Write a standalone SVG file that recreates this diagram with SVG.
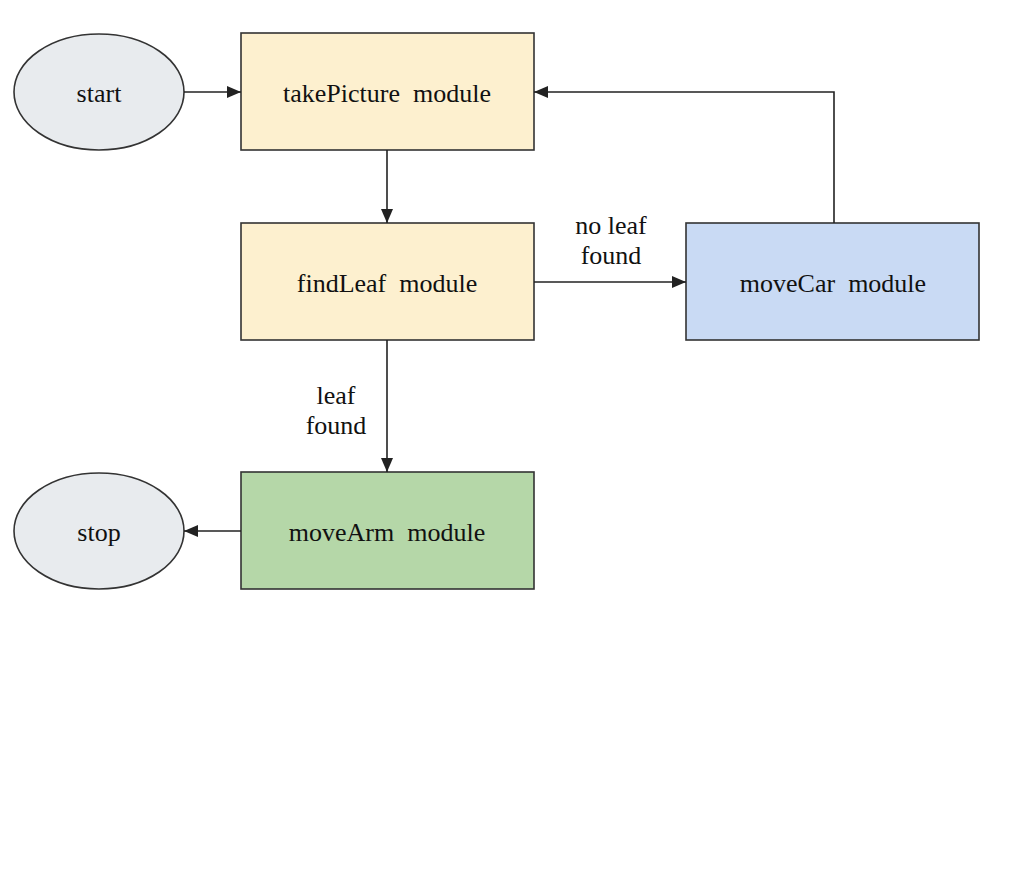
<svg xmlns="http://www.w3.org/2000/svg" width="1016" height="875" viewBox="0 0 1016 875">
<style>
.n{stroke:#333;stroke-width:1.6}
.t{font-family:"Liberation Serif","Times New Roman","DejaVu Serif",serif;font-size:26px;fill:#111;text-anchor:middle;white-space:pre}
.c{fill:none;stroke:#222;stroke-width:1.6}
</style>
<defs>
<marker id="a" viewBox="0 0 14 12" refX="14" refY="6" markerWidth="14" markerHeight="12" markerUnits="userSpaceOnUse" orient="auto"><path d="M0,0L14,6L0,12z" fill="#222"/></marker>
</defs>
<rect width="1016" height="875" fill="#fff"/>
<g id="start"><ellipse class="n" cx="99" cy="92" rx="85" ry="58" fill="#e8ebee"/><text class="t" x="99" y="102">start</text></g>
<g id="takePicture"><rect class="n" x="241" y="33" width="293" height="117" fill="#fdf0cf"/><text class="t" x="387" y="102" xml:space="preserve">takePicture  module</text></g>
<g id="findLeaf"><rect class="n" x="241" y="223" width="293" height="117" fill="#fdf0cf"/><text class="t" x="387" y="292" xml:space="preserve">findLeaf  module</text></g>
<g id="moveCar"><rect class="n" x="686" y="223" width="293" height="117" fill="#c9daf4"/><text class="t" x="833" y="292" xml:space="preserve">moveCar  module</text></g>
<g id="moveArm"><rect class="n" x="241" y="472" width="293" height="117" fill="#b5d7a8"/><text class="t" x="387" y="541" xml:space="preserve">moveArm  module</text></g>
<g id="stop"><ellipse class="n" cx="99" cy="531" rx="85" ry="58" fill="#e8ebee"/><text class="t" x="99" y="541">stop</text></g>
<g id="connectors">
<path class="c" d="M184,92H241" marker-end="url(#a)"/>
<path class="c" d="M387,150V223" marker-end="url(#a)"/>
<path class="c" d="M534,282H686" marker-end="url(#a)"/>
<path class="c" d="M834,223V92H534" marker-end="url(#a)"/>
<path class="c" d="M387,340V472" marker-end="url(#a)"/>
<path class="c" d="M241,531H184" marker-end="url(#a)"/>
<text class="t" x="611" y="234">no leaf</text>
<text class="t" x="611" y="264">found</text>
<text class="t" x="336" y="404">leaf</text>
<text class="t" x="336" y="434">found</text>
</g>
</svg>
